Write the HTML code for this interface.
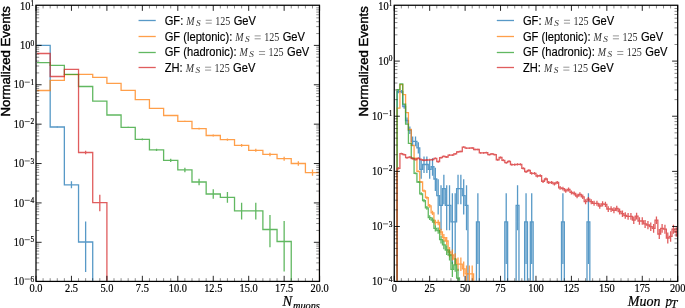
<!DOCTYPE html>
<html><head><meta charset="utf-8"><style>
html,body{margin:0;padding:0;background:#fff;overflow:hidden}
svg{display:block}
</style></head><body>
<svg width="685" height="308" viewBox="0 0 685 308">
<style>
.sf{font-family:"Liberation Serif",serif;fill:#000;stroke:#000;stroke-width:0.2px}
.lg{font-family:"Liberation Sans",sans-serif;font-size:11.15px;fill:#000;stroke:#000;stroke-width:0.15px}
.yl{font-family:"Liberation Sans",sans-serif;font-size:13.15px;fill:#000;stroke:#000;stroke-width:0.42px}
</style>
<defs><filter id="gs" x="0" y="0" width="1" height="1"><feColorMatrix type="saturate" values="0"/></filter>
<clipPath id="cl"><rect x="37" y="5.87" width="281.85" height="274.91"/></clipPath><clipPath id="cr"><rect x="395.25" y="5.87" width="281.85" height="274.91"/></clipPath></defs>
<rect width="685" height="308" fill="#fff"/>
<g>
<g clip-path="url(#cl)">
<g opacity="0.75">
<path d="M36 284.4 L36 45.4 L50.18 45.4 L50.18 127 L64.36 127 L64.36 184.8 L78.54 184.8 L78.54 242 L92.72 242 L92.72 284.4" fill="none" stroke="#1f77b4" stroke-width="1.3"/>
<path d="M57.27 126.4V127.6M71.45 181.3V188.36M85.63 221.58V272.03" fill="none" stroke="#1f77b4" stroke-width="1.3"/>
</g>
<g opacity="0.75">
<path d="M36 284.4 L36 90.5 L50.18 90.5 L50.18 80.4 L64.36 80.4 L64.36 74.7 L78.54 74.7 L78.54 74.3 L92.72 74.3 L92.72 77.4 L106.9 77.4 L106.9 83.3 L121.08 83.3 L121.08 90.4 L135.26 90.4 L135.26 99.6 L149.44 99.6 L149.44 108.4 L163.62 108.4 L163.62 115.5 L177.8 115.5 L177.8 121.4 L191.98 121.4 L191.98 128.6 L206.16 128.6 L206.16 135.5 L220.34 135.5 L220.34 139.7 L234.52 139.7 L234.52 145.4 L248.7 145.4 L248.7 150.3 L262.88 150.3 L262.88 154.4 L277.06 154.4 L277.06 158.7 L291.24 158.7 L291.24 163.5 L305.42 163.5 L305.42 172.6 L319.6 172.6 L319.6 284.4" fill="none" stroke="#ff7f0e" stroke-width="1.3"/>
<path d="M170.71 114.96V116.04M184.89 120.76V122.04M199.07 127.81V129.39M213.25 134.53V136.48M227.43 138.59V140.81M241.61 144.09V146.72M255.79 148.78V151.83M269.97 152.68V156.13M284.15 156.74V160.68M298.33 161.22V165.79M312.51 169.59V175.65" fill="none" stroke="#ff7f0e" stroke-width="1.3"/>
</g>
<g opacity="0.75">
<path d="M36 284.4 L36 62.6 L50.18 62.6 L50.18 65.3 L64.36 65.3 L64.36 74.3 L78.54 74.3 L78.54 86.5 L92.72 86.5 L92.72 101.1 L106.9 101.1 L106.9 115 L121.08 115 L121.08 127.3 L135.26 127.3 L135.26 139.3 L149.44 139.3 L149.44 149.9 L163.62 149.9 L163.62 160.4 L177.8 160.4 L177.8 169.9 L191.98 169.9 L191.98 182 L206.16 182 L206.16 194 L220.34 194 L220.34 197.3 L234.52 197.3 L234.52 210.8 L262.88 210.8 L262.88 229.5 L277.06 229.5 L277.06 241.5 L291.24 241.5 L291.24 284.4" fill="none" stroke="#2ca02c" stroke-width="1.3"/>
<path d="M128.17 126.68V127.92M142.35 138.42V140.18M156.53 148.69V151.12M170.71 158.74V162.07M184.89 167.68V172.14M199.07 178.74V185.31M213.25 189.28V198.86M227.43 192.02V202.77M241.61 202.79V219.44M255.79 202.79V219.44M269.97 215.11V247.26M284.15 221.08V271.53" fill="none" stroke="#2ca02c" stroke-width="1.3"/>
</g>
<g opacity="0.75">
<path d="M36 284.4 L36 53.5 L50.18 53.5 L50.18 76.5 L64.36 76.5 L64.36 69.4 L78.54 69.4 L78.54 152.5 L92.72 152.5 L92.72 202.7 L106.9 202.7 L106.9 284.4" fill="none" stroke="#d62728" stroke-width="1.3"/>
<path d="M85.63 150.82V154.19M99.81 194.68V211.35" fill="none" stroke="#d62728" stroke-width="1.3"/>
</g>
</g>
<g clip-path="url(#cr)">
<g opacity="0.75">
<path d="M394.25 284.4 L394.25 284.4 L397.08 284.4 L397.08 91.7 L402.75 91.7 L402.75 106.49 L405.59 106.49 L405.59 120.52 L408.42 120.52 L408.42 130.23 L411.26 130.23 L411.26 141.28 L416.93 141.28 L416.93 147.89 L419.76 147.89 L419.76 169.29 L422.6 169.29 L422.6 164.49 L428.26 164.49 L428.26 169.29 L431.1 169.29 L431.1 166.77 L433.93 166.77 L433.93 179 L436.77 179 L436.77 195.6 L439.6 195.6 L439.6 205.3 L442.44 205.3 L442.44 188.71 L445.27 188.71 L445.27 205.3 L450.94 205.3 L450.94 221.9 L456.61 221.9 L456.61 188.71 L462.28 188.71 L462.28 195.6 L465.11 195.6 L465.11 205.3 L467.95 205.3 L467.95 284.4 L476.45 284.4 L476.45 221.9 L479.29 221.9 L479.29 284.4 L504.8 284.4 L504.8 221.9 L507.63 221.9 L507.63 284.4 L516.13 284.4 L516.13 205.3 L518.97 205.3 L518.97 284.4 L524.64 284.4 L524.64 221.9 L527.47 221.9 L527.47 284.4 L530.31 284.4 L530.31 221.9 L533.14 221.9 L533.14 284.4 L561.49 284.4 L561.49 221.9 L564.32 221.9 L564.32 284.4 L587 284.4 L587 221.9 L589.83 221.9 L589.83 284.4 L677.7 284.4 L677.7 284.4" fill="none" stroke="#1f77b4" stroke-width="1.3"/>
<path d="M398.5 90.07V93.33M401.34 90.07V93.33M404.17 104.25V108.74M407.01 117.48V123.59M409.84 126.47V134.04M412.67 136.47V146.16M415.51 136.47V146.16M418.34 142.32V153.58M421.18 160.29V178.78M424.01 156.41V172.92M426.85 156.41V172.92M429.68 160.29V178.78M432.52 158.26V175.68M435.35 167.79V191.1M438.18 179.33V214.41M441.02 185.17V230.16M443.85 174.76V204.3M446.69 185.17V230.16M449.52 185.17V230.16M452.36 193.32V263.94M455.19 193.32V263.94M458.03 174.76V204.3M460.86 174.76V204.3M463.7 179.33V214.41M466.53 185.17V230.16M477.87 193.32V263.94M506.21 193.32V263.94M517.55 185.17V230.16M526.05 193.32V263.94M531.72 193.32V263.94M562.9 193.32V263.94M588.41 193.32V263.94" fill="none" stroke="#1f77b4" stroke-width="1.3"/>
</g>
<g opacity="0.75">
<path d="M394.25 284.4 L394.25 284.4 L397.08 284.4 L397.08 108.2 L399.92 108.2 L399.92 84.7 L402.75 84.7 L402.75 94.6 L405.59 94.6 L405.59 112.7 L408.42 112.7 L408.42 129.5 L411.26 129.5 L411.26 145.4 L414.09 145.4 L414.09 158.4 L416.93 158.4 L416.93 171.3 L419.76 171.3 L419.76 182 L422.6 182 L422.6 190.8 L425.43 190.8 L425.43 197.7 L428.26 197.7 L428.26 205.9 L431.1 205.9 L431.1 212.8 L433.93 212.8 L433.93 222.5 L439.6 222.5 L439.6 232 L442.44 232 L442.44 237.7 L445.27 237.7 L445.27 241 L448.11 241 L448.11 252 L450.94 252 L450.94 255 L453.77 255 L453.77 259.2 L456.61 259.2 L456.61 264.2 L462.28 264.2 L462.28 268.8 L465.11 268.8 L465.11 273.9 L473.62 273.9 L473.62 284.4 L677.7 284.4 L677.7 284.4" fill="none" stroke="#ff7f0e" stroke-width="1.3"/>
<path d="M412.67 144.89V145.91M415.51 157.73V159.07M418.34 170.41V172.19M421.18 180.89V183.11M424.01 189.46V192.14M426.85 196.14V199.26M429.68 204.04V207.76M432.52 210.64V214.96M435.35 219.84V225.18M438.18 219.84V225.18M441.02 228.72V235.3M443.85 233.99V241.45M446.69 237.01V245.04M449.52 246.91V257.19M452.36 249.55V260.56M455.19 253.22V265.33M458.03 257.51V271.1M460.86 257.51V271.1M463.7 261.38V276.5M466.53 265.58V282.61M469.36 265.58V282.61M472.2 265.58V282.61" fill="none" stroke="#ff7f0e" stroke-width="1.3"/>
</g>
<g opacity="0.75">
<path d="M394.25 284.4 L394.25 284.4 L397.08 284.4 L397.08 89.7 L399.92 89.7 L399.92 83.9 L402.75 83.9 L402.75 104.2 L405.59 104.2 L405.59 124.1 L408.42 124.1 L408.42 143.4 L411.26 143.4 L411.26 158.1 L414.09 158.1 L414.09 173.3 L416.93 173.3 L416.93 182 L419.76 182 L419.76 193.8 L422.6 193.8 L422.6 200.6 L425.43 200.6 L425.43 207.9 L428.26 207.9 L428.26 217.7 L431.1 217.7 L431.1 220.1 L433.93 220.1 L433.93 228.4 L436.77 228.4 L436.77 230.6 L439.6 230.6 L439.6 239.7 L442.44 239.7 L442.44 244.9 L445.27 244.9 L445.27 250 L448.11 250 L448.11 255 L450.94 255 L450.94 269.3 L453.77 269.3 L453.77 264.8 L456.61 264.8 L456.61 278 L459.44 278 L459.44 284.4 L677.7 284.4 L677.7 284.4" fill="none" stroke="#2ca02c" stroke-width="1.3"/>
<path d="M412.67 157.43V158.77M415.51 172.38V174.23M418.34 180.89V183.11M421.18 192.37V195.23M424.01 198.94V202.26M426.85 205.96V209.84M429.68 215.3V220.11M432.52 217.57V222.64M435.35 225.37V231.45M438.18 227.42V233.8M441.02 235.82V243.62M443.85 240.55V249.31M446.69 245.13V254.96M449.52 249.55V260.56M452.36 261.8V277.09M455.19 258.02V271.8M458.03 268.87V283.4" fill="none" stroke="#2ca02c" stroke-width="1.3"/>
</g>
<g opacity="0.75">
<path d="M394.25 284.4 L394.25 284.4 L397.08 284.4 L397.08 168.4 L399.92 168.4 L399.92 153.6 L402.75 153.6 L402.75 154.7 L405.59 154.7 L405.59 157.7 L408.42 157.7 L408.42 157.2 L411.26 157.2 L411.26 158.6 L414.09 158.6 L414.09 159.6 L416.93 159.6 L416.93 158.3 L419.76 158.3 L419.76 159.6 L422.6 159.6 L422.6 160.3 L425.43 160.3 L425.43 160 L428.26 160 L428.26 159.8 L431.1 159.8 L431.1 159.7 L433.93 159.7 L433.93 158.4 L436.77 158.4 L436.77 161.6 L439.6 161.6 L439.6 157.7 L442.44 157.7 L442.44 156.4 L445.27 156.4 L445.27 157 L448.11 157 L448.11 155.1 L453.77 155.1 L453.77 153.8 L456.61 153.8 L456.61 151.9 L459.44 151.9 L459.44 151.5 L462.28 151.5 L462.28 147.1 L465.11 147.1 L465.11 148.2 L470.78 148.2 L470.78 148 L473.62 148 L473.62 149.5 L479.29 149.5 L479.29 152.8 L484.95 152.8 L484.95 152.7 L487.79 152.7 L487.79 154.6 L490.62 154.6 L490.62 153.8 L493.46 153.8 L493.46 154.6 L496.29 154.6 L496.29 159.8 L499.13 159.8 L499.13 157.5 L501.96 157.5 L501.96 160.3 L504.8 160.3 L504.8 162.7 L507.63 162.7 L507.63 161.4 L510.46 161.4 L510.46 164.7 L516.13 164.7 L516.13 164.4 L521.8 164.4 L521.8 168.4 L524.64 168.4 L524.64 171.7 L527.47 171.7 L527.47 170.4 L530.31 170.4 L530.31 173.3 L535.98 173.3 L535.98 176 L538.81 176 L538.81 175.7 L541.64 175.7 L541.64 181.4 L544.48 181.4 L544.48 179 L547.31 179 L547.31 182.5 L552.98 182.5 L552.98 183.8 L555.82 183.8 L555.82 182.5 L558.65 182.5 L558.65 187.9 L561.49 187.9 L561.49 188.7 L564.32 188.7 L564.32 190.8 L567.15 190.8 L567.15 189.5 L569.99 189.5 L569.99 192.4 L572.82 192.4 L572.82 193.5 L575.66 193.5 L575.66 196 L578.49 196 L578.49 194.4 L581.33 194.4 L581.33 196.8 L584.16 196.8 L584.16 201.7 L587 201.7 L587 199.2 L589.83 199.2 L589.83 201.7 L592.66 201.7 L592.66 203.3 L598.33 203.3 L598.33 206 L601.17 206 L601.17 203.8 L604 203.8 L604 204.4 L606.84 204.4 L606.84 209 L612.51 209 L612.51 210.3 L615.34 210.3 L615.34 208.5 L618.18 208.5 L618.18 211.5 L621.01 211.5 L621.01 213.7 L623.84 213.7 L623.84 215.5 L626.68 215.5 L626.68 216.3 L632.35 216.3 L632.35 220.2 L635.18 220.2 L635.18 216.1 L638.02 216.1 L638.02 221 L643.69 221 L643.69 223.9 L646.52 223.9 L646.52 225 L649.36 225 L649.36 226.7 L652.19 226.7 L652.19 228.3 L655.02 228.3 L655.02 220.2 L657.86 220.2 L657.86 234 L660.69 234 L660.69 228.3 L663.53 228.3 L663.53 229.1 L666.36 229.1 L666.36 238 L669.2 238 L669.2 236.4 L672.03 236.4 L672.03 229.1 L674.87 229.1 L674.87 232 L677.7 232 L677.7 284.4" fill="none" stroke="#d62728" stroke-width="1.3"/>
<path d="M398.5 167.2V169.6M401.34 152.73V154.47M404.17 153.81V155.59M407.01 156.75V158.65M409.84 156.26V158.14M412.67 157.63V159.57M415.51 158.61V160.59M418.34 157.34V159.27M421.18 158.61V160.59M424.01 159.29V161.31M426.85 159V161M429.68 158.8V160.8M432.52 158.71V160.69M435.35 157.43V159.37M438.18 160.57V162.64M441.02 156.75V158.65M443.85 155.47V157.33M446.69 156.06V157.94M449.52 154.2V156M452.36 154.2V156M455.19 152.92V154.68M458.03 151.06V152.74M460.86 150.67V152.34M463.7 146.34V147.86M466.53 147.42V148.98M469.36 147.42V148.98M472.2 147.22V148.78M475.03 148.7V150.3M477.87 148.7V150.3M480.7 151.94V153.66M483.54 151.94V153.66M486.37 151.84V153.56M489.21 153.71V155.49M492.04 152.92V154.68M494.87 153.71V155.49M497.71 158.8V160.8M500.54 156.55V158.45M503.38 159.29V161.31M506.21 161.64V163.76M509.05 160.37V162.43M511.88 163.59V165.81M514.72 163.59V165.81M517.55 163.3V165.5M520.39 163.3V165.5M523.22 167.2V169.6M526.05 170.42V172.99M528.89 169.15V171.65M531.72 171.97V174.63M534.56 171.97V174.63M537.39 174.59V177.41M540.23 174.3V177.1M543.06 179.82V182.98M545.9 177.5V180.5M548.73 180.88V184.12M551.56 180.88V184.12M554.4 182.14V185.47M557.23 180.88V184.12M560.07 186.08V189.72M562.9 186.85V190.55M565.74 188.87V192.74M568.57 187.62V191.39M571.41 190.4V194.41M574.24 191.45V195.56M577.08 193.84V198.17M579.91 192.31V196.5M582.74 194.6V199.01M585.58 199.25V204.16M588.41 196.88V201.53M591.25 199.25V204.16M594.08 200.76V205.85M596.92 200.76V205.85M599.75 203.31V208.71M602.59 201.24V206.38M605.42 201.8V207.01M608.25 206.13V211.89M611.09 206.13V211.89M613.92 207.35V213.27M616.76 205.66V211.36M619.59 208.47V214.55M622.43 210.52V216.91M625.26 212.19V218.84M628.1 212.93V219.7M630.93 212.93V219.7M633.77 216.53V223.91M636.6 212.74V219.48M639.43 217.26V224.78M642.27 217.26V224.78M645.1 219.92V227.93M647.94 220.92V229.13M650.77 222.46V230.99M653.61 223.91V232.75M656.44 216.53V223.91M659.28 229.02V239.07M662.11 223.91V232.75M664.94 224.63V233.63M667.78 232.55V243.56M670.61 231.14V241.76M673.45 224.63V233.63M676.28 227.23V236.84" fill="none" stroke="#d62728" stroke-width="1.3"/>
</g>
</g>
<path d="M36 281.4v-5.6M36 5.25v5.6M71.45 281.4v-5.6M71.45 5.25v5.6M106.9 281.4v-5.6M106.9 5.25v5.6M142.35 281.4v-5.6M142.35 5.25v5.6M177.8 281.4v-5.6M177.8 5.25v5.6M213.25 281.4v-5.6M213.25 5.25v5.6M248.7 281.4v-5.6M248.7 5.25v5.6M284.15 281.4v-5.6M284.15 5.25v5.6M319.6 281.4v-5.6M319.6 5.25v5.6M36 242.3h5.6M319.45 242.3h-5.6M36 202.92h5.6M319.45 202.92h-5.6M36 163.54h5.6M319.45 163.54h-5.6M36 124.16h5.6M319.45 124.16h-5.6M36 84.78h5.6M319.45 84.78h-5.6M36 45.4h5.6M319.45 45.4h-5.6" stroke="#000" stroke-width="0.85" fill="none"/>
<path d="M43.09 281.4v-3.2M43.09 5.25v3.2M50.18 281.4v-3.2M50.18 5.25v3.2M57.27 281.4v-3.2M57.27 5.25v3.2M64.36 281.4v-3.2M64.36 5.25v3.2M78.54 281.4v-3.2M78.54 5.25v3.2M85.63 281.4v-3.2M85.63 5.25v3.2M92.72 281.4v-3.2M92.72 5.25v3.2M99.81 281.4v-3.2M99.81 5.25v3.2M113.99 281.4v-3.2M113.99 5.25v3.2M121.08 281.4v-3.2M121.08 5.25v3.2M128.17 281.4v-3.2M128.17 5.25v3.2M135.26 281.4v-3.2M135.26 5.25v3.2M149.44 281.4v-3.2M149.44 5.25v3.2M156.53 281.4v-3.2M156.53 5.25v3.2M163.62 281.4v-3.2M163.62 5.25v3.2M170.71 281.4v-3.2M170.71 5.25v3.2M184.89 281.4v-3.2M184.89 5.25v3.2M191.98 281.4v-3.2M191.98 5.25v3.2M199.07 281.4v-3.2M199.07 5.25v3.2M206.16 281.4v-3.2M206.16 5.25v3.2M220.34 281.4v-3.2M220.34 5.25v3.2M227.43 281.4v-3.2M227.43 5.25v3.2M234.52 281.4v-3.2M234.52 5.25v3.2M241.61 281.4v-3.2M241.61 5.25v3.2M255.79 281.4v-3.2M255.79 5.25v3.2M262.88 281.4v-3.2M262.88 5.25v3.2M269.97 281.4v-3.2M269.97 5.25v3.2M277.06 281.4v-3.2M277.06 5.25v3.2M291.24 281.4v-3.2M291.24 5.25v3.2M298.33 281.4v-3.2M298.33 5.25v3.2M305.42 281.4v-3.2M305.42 5.25v3.2M312.51 281.4v-3.2M312.51 5.25v3.2M36 269.83h3.2M319.45 269.83h-3.2M36 262.89h3.2M319.45 262.89h-3.2M36 257.97h3.2M319.45 257.97h-3.2M36 254.15h3.2M319.45 254.15h-3.2M36 251.04h3.2M319.45 251.04h-3.2M36 248.4h3.2M319.45 248.4h-3.2M36 246.12h3.2M319.45 246.12h-3.2M36 244.1h3.2M319.45 244.1h-3.2M36 230.45h3.2M319.45 230.45h-3.2M36 223.51h3.2M319.45 223.51h-3.2M36 218.59h3.2M319.45 218.59h-3.2M36 214.77h3.2M319.45 214.77h-3.2M36 211.66h3.2M319.45 211.66h-3.2M36 209.02h3.2M319.45 209.02h-3.2M36 206.74h3.2M319.45 206.74h-3.2M36 204.72h3.2M319.45 204.72h-3.2M36 191.07h3.2M319.45 191.07h-3.2M36 184.13h3.2M319.45 184.13h-3.2M36 179.21h3.2M319.45 179.21h-3.2M36 175.39h3.2M319.45 175.39h-3.2M36 172.28h3.2M319.45 172.28h-3.2M36 169.64h3.2M319.45 169.64h-3.2M36 167.36h3.2M319.45 167.36h-3.2M36 165.34h3.2M319.45 165.34h-3.2M36 151.69h3.2M319.45 151.69h-3.2M36 144.75h3.2M319.45 144.75h-3.2M36 139.83h3.2M319.45 139.83h-3.2M36 136.01h3.2M319.45 136.01h-3.2M36 132.9h3.2M319.45 132.9h-3.2M36 130.26h3.2M319.45 130.26h-3.2M36 127.98h3.2M319.45 127.98h-3.2M36 125.96h3.2M319.45 125.96h-3.2M36 112.31h3.2M319.45 112.31h-3.2M36 105.37h3.2M319.45 105.37h-3.2M36 100.45h3.2M319.45 100.45h-3.2M36 96.63h3.2M319.45 96.63h-3.2M36 93.52h3.2M319.45 93.52h-3.2M36 90.88h3.2M319.45 90.88h-3.2M36 88.6h3.2M319.45 88.6h-3.2M36 86.58h3.2M319.45 86.58h-3.2M36 72.93h3.2M319.45 72.93h-3.2M36 65.99h3.2M319.45 65.99h-3.2M36 61.07h3.2M319.45 61.07h-3.2M36 57.25h3.2M319.45 57.25h-3.2M36 54.14h3.2M319.45 54.14h-3.2M36 51.5h3.2M319.45 51.5h-3.2M36 49.22h3.2M319.45 49.22h-3.2M36 47.2h3.2M319.45 47.2h-3.2M36 33.55h3.2M319.45 33.55h-3.2M36 26.61h3.2M319.45 26.61h-3.2M36 21.69h3.2M319.45 21.69h-3.2M36 17.87h3.2M319.45 17.87h-3.2M36 14.76h3.2M319.45 14.76h-3.2M36 12.12h3.2M319.45 12.12h-3.2M36 9.84h3.2M319.45 9.84h-3.2M36 7.82h3.2M319.45 7.82h-3.2" stroke="#000" stroke-opacity="0.7" stroke-width="0.65" fill="none"/>
<rect x="36" y="5.25" width="283.45" height="276.15" fill="none" stroke="#000" stroke-width="1.25"/>
<path d="M394.25 281.4v-5.6M394.25 5.25v5.6M429.68 281.4v-5.6M429.68 5.25v5.6M465.11 281.4v-5.6M465.11 5.25v5.6M500.54 281.4v-5.6M500.54 5.25v5.6M535.98 281.4v-5.6M535.98 5.25v5.6M571.41 281.4v-5.6M571.41 5.25v5.6M606.84 281.4v-5.6M606.84 5.25v5.6M642.27 281.4v-5.6M642.27 5.25v5.6M677.7 281.4v-5.6M677.7 5.25v5.6M394.25 226.49h5.6M677.7 226.49h-5.6M394.25 171.36h5.6M677.7 171.36h-5.6M394.25 116.23h5.6M677.7 116.23h-5.6M394.25 61.1h5.6M677.7 61.1h-5.6" stroke="#000" stroke-width="0.85" fill="none"/>
<path d="M401.34 281.4v-3.2M401.34 5.25v3.2M408.42 281.4v-3.2M408.42 5.25v3.2M415.51 281.4v-3.2M415.51 5.25v3.2M422.6 281.4v-3.2M422.6 5.25v3.2M436.77 281.4v-3.2M436.77 5.25v3.2M443.85 281.4v-3.2M443.85 5.25v3.2M450.94 281.4v-3.2M450.94 5.25v3.2M458.03 281.4v-3.2M458.03 5.25v3.2M472.2 281.4v-3.2M472.2 5.25v3.2M479.29 281.4v-3.2M479.29 5.25v3.2M486.37 281.4v-3.2M486.37 5.25v3.2M493.46 281.4v-3.2M493.46 5.25v3.2M507.63 281.4v-3.2M507.63 5.25v3.2M514.72 281.4v-3.2M514.72 5.25v3.2M521.8 281.4v-3.2M521.8 5.25v3.2M528.89 281.4v-3.2M528.89 5.25v3.2M543.06 281.4v-3.2M543.06 5.25v3.2M550.15 281.4v-3.2M550.15 5.25v3.2M557.23 281.4v-3.2M557.23 5.25v3.2M564.32 281.4v-3.2M564.32 5.25v3.2M578.49 281.4v-3.2M578.49 5.25v3.2M585.58 281.4v-3.2M585.58 5.25v3.2M592.66 281.4v-3.2M592.66 5.25v3.2M599.75 281.4v-3.2M599.75 5.25v3.2M613.92 281.4v-3.2M613.92 5.25v3.2M621.01 281.4v-3.2M621.01 5.25v3.2M628.1 281.4v-3.2M628.1 5.25v3.2M635.18 281.4v-3.2M635.18 5.25v3.2M649.36 281.4v-3.2M649.36 5.25v3.2M656.44 281.4v-3.2M656.44 5.25v3.2M663.53 281.4v-3.2M663.53 5.25v3.2M670.61 281.4v-3.2M670.61 5.25v3.2M394.25 265.02h3.2M677.7 265.02h-3.2M394.25 255.32h3.2M677.7 255.32h-3.2M394.25 248.43h3.2M677.7 248.43h-3.2M394.25 243.09h3.2M677.7 243.09h-3.2M394.25 238.72h3.2M677.7 238.72h-3.2M394.25 235.03h3.2M677.7 235.03h-3.2M394.25 231.83h3.2M677.7 231.83h-3.2M394.25 229.01h3.2M677.7 229.01h-3.2M394.25 209.89h3.2M677.7 209.89h-3.2M394.25 200.19h3.2M677.7 200.19h-3.2M394.25 193.3h3.2M677.7 193.3h-3.2M394.25 187.96h3.2M677.7 187.96h-3.2M394.25 183.59h3.2M677.7 183.59h-3.2M394.25 179.9h3.2M677.7 179.9h-3.2M394.25 176.7h3.2M677.7 176.7h-3.2M394.25 173.88h3.2M677.7 173.88h-3.2M394.25 154.76h3.2M677.7 154.76h-3.2M394.25 145.06h3.2M677.7 145.06h-3.2M394.25 138.17h3.2M677.7 138.17h-3.2M394.25 132.83h3.2M677.7 132.83h-3.2M394.25 128.46h3.2M677.7 128.46h-3.2M394.25 124.77h3.2M677.7 124.77h-3.2M394.25 121.57h3.2M677.7 121.57h-3.2M394.25 118.75h3.2M677.7 118.75h-3.2M394.25 99.63h3.2M677.7 99.63h-3.2M394.25 89.93h3.2M677.7 89.93h-3.2M394.25 83.04h3.2M677.7 83.04h-3.2M394.25 77.7h3.2M677.7 77.7h-3.2M394.25 73.33h3.2M677.7 73.33h-3.2M394.25 69.64h3.2M677.7 69.64h-3.2M394.25 66.44h3.2M677.7 66.44h-3.2M394.25 63.62h3.2M677.7 63.62h-3.2M394.25 44.5h3.2M677.7 44.5h-3.2M394.25 34.8h3.2M677.7 34.8h-3.2M394.25 27.91h3.2M677.7 27.91h-3.2M394.25 22.57h3.2M677.7 22.57h-3.2M394.25 18.2h3.2M677.7 18.2h-3.2M394.25 14.51h3.2M677.7 14.51h-3.2M394.25 11.31h3.2M677.7 11.31h-3.2M394.25 8.49h3.2M677.7 8.49h-3.2" stroke="#000" stroke-opacity="0.7" stroke-width="0.65" fill="none"/>
<rect x="394.25" y="5.25" width="283.45" height="276.15" fill="none" stroke="#000" stroke-width="1.25"/>
<path d="M138.55 20.5h17.2" stroke="#1f77b4" stroke-width="1.3" stroke-opacity="0.75"/>
<path d="M138.55 36.5h17.2" stroke="#ff7f0e" stroke-width="1.3" stroke-opacity="0.75"/>
<path d="M138.55 52.5h17.2" stroke="#2ca02c" stroke-width="1.3" stroke-opacity="0.75"/>
<path d="M138.55 67.5h17.2" stroke="#d62728" stroke-width="1.3" stroke-opacity="0.75"/>
<path d="M496.8 20.5h17.2" stroke="#1f77b4" stroke-width="1.3" stroke-opacity="0.75"/>
<path d="M496.8 36.5h17.2" stroke="#ff7f0e" stroke-width="1.3" stroke-opacity="0.75"/>
<path d="M496.8 52.5h17.2" stroke="#2ca02c" stroke-width="1.3" stroke-opacity="0.75"/>
<path d="M496.8 67.5h17.2" stroke="#d62728" stroke-width="1.3" stroke-opacity="0.75"/>
</g>
<g filter="url(#gs)">
<text class="sf" style="font-size:11.8px" text-anchor="middle" transform="translate(36 292.4) scale(0.88 1)">0.0</text>
<text class="sf" style="font-size:11.8px" text-anchor="middle" transform="translate(71.45 292.4) scale(0.88 1)">2.5</text>
<text class="sf" style="font-size:11.8px" text-anchor="middle" transform="translate(106.9 292.4) scale(0.88 1)">5.0</text>
<text class="sf" style="font-size:11.8px" text-anchor="middle" transform="translate(142.35 292.4) scale(0.88 1)">7.5</text>
<text class="sf" style="font-size:11.8px" text-anchor="middle" transform="translate(177.8 292.4) scale(0.88 1)">10.0</text>
<text class="sf" style="font-size:11.8px" text-anchor="middle" transform="translate(213.25 292.4) scale(0.88 1)">12.5</text>
<text class="sf" style="font-size:11.8px" text-anchor="middle" transform="translate(248.7 292.4) scale(0.88 1)">15.0</text>
<text class="sf" style="font-size:11.8px" text-anchor="middle" transform="translate(284.15 292.4) scale(0.88 1)">17.5</text>
<text class="sf" style="font-size:11.8px" text-anchor="middle" transform="translate(319.6 292.4) scale(0.88 1)">20.0</text>
<text class="sf" style="font-size:8.4px" text-anchor="end" transform="translate(34.1 281.78) scale(0.88 1)">6</text>
<path d="M29.8 279.08h-5.1" stroke="#000" stroke-width="0.62"/>
<text class="sf" style="font-size:11.8px" text-anchor="end" transform="translate(24.2 285.28) scale(0.88 1)">10</text>
<text class="sf" style="font-size:8.4px" text-anchor="end" transform="translate(34.1 242.4) scale(0.88 1)">5</text>
<path d="M29.8 239.7h-5.1" stroke="#000" stroke-width="0.62"/>
<text class="sf" style="font-size:11.8px" text-anchor="end" transform="translate(24.2 245.9) scale(0.88 1)">10</text>
<text class="sf" style="font-size:8.4px" text-anchor="end" transform="translate(34.1 203.02) scale(0.88 1)">4</text>
<path d="M29.8 200.32h-5.1" stroke="#000" stroke-width="0.62"/>
<text class="sf" style="font-size:11.8px" text-anchor="end" transform="translate(24.2 206.52) scale(0.88 1)">10</text>
<text class="sf" style="font-size:8.4px" text-anchor="end" transform="translate(34.1 163.64) scale(0.88 1)">3</text>
<path d="M29.8 160.94h-5.1" stroke="#000" stroke-width="0.62"/>
<text class="sf" style="font-size:11.8px" text-anchor="end" transform="translate(24.2 167.14) scale(0.88 1)">10</text>
<text class="sf" style="font-size:8.4px" text-anchor="end" transform="translate(34.1 124.26) scale(0.88 1)">2</text>
<path d="M29.8 121.56h-5.1" stroke="#000" stroke-width="0.62"/>
<text class="sf" style="font-size:11.8px" text-anchor="end" transform="translate(24.2 127.76) scale(0.88 1)">10</text>
<text class="sf" style="font-size:8.4px" text-anchor="end" transform="translate(34.1 84.88) scale(0.88 1)">1</text>
<path d="M29.8 82.18h-5.1" stroke="#000" stroke-width="0.62"/>
<text class="sf" style="font-size:11.8px" text-anchor="end" transform="translate(24.2 88.38) scale(0.88 1)">10</text>
<text class="sf" style="font-size:11.8px" text-anchor="end" transform="translate(34.1 49) scale(0.88 1)">10<tspan dy="-3.3" style="font-size:8.4px">0</tspan></text>
<text class="sf" style="font-size:11.8px" text-anchor="end" transform="translate(34.1 9.62) scale(0.88 1)">10<tspan dy="-3.3" style="font-size:8.4px">1</tspan></text>
<text class="sf" style="font-size:11.8px" text-anchor="middle" transform="translate(394.25 292.4) scale(0.88 1)">0</text>
<text class="sf" style="font-size:11.8px" text-anchor="middle" transform="translate(429.68 292.4) scale(0.88 1)">25</text>
<text class="sf" style="font-size:11.8px" text-anchor="middle" transform="translate(465.11 292.4) scale(0.88 1)">50</text>
<text class="sf" style="font-size:11.8px" text-anchor="middle" transform="translate(500.54 292.4) scale(0.88 1)">75</text>
<text class="sf" style="font-size:11.8px" text-anchor="middle" transform="translate(535.98 292.4) scale(0.88 1)">100</text>
<text class="sf" style="font-size:11.8px" text-anchor="middle" transform="translate(571.41 292.4) scale(0.88 1)">125</text>
<text class="sf" style="font-size:11.8px" text-anchor="middle" transform="translate(606.84 292.4) scale(0.88 1)">150</text>
<text class="sf" style="font-size:11.8px" text-anchor="middle" transform="translate(642.27 292.4) scale(0.88 1)">175</text>
<text class="sf" style="font-size:11.8px" text-anchor="middle" transform="translate(677.7 292.4) scale(0.88 1)">200</text>
<text class="sf" style="font-size:8.4px" text-anchor="end" transform="translate(392.35 281.72) scale(0.88 1)">4</text>
<path d="M388.05 279.02h-5.1" stroke="#000" stroke-width="0.62"/>
<text class="sf" style="font-size:11.8px" text-anchor="end" transform="translate(382.45 285.22) scale(0.88 1)">10</text>
<text class="sf" style="font-size:8.4px" text-anchor="end" transform="translate(392.35 226.59) scale(0.88 1)">3</text>
<path d="M388.05 223.89h-5.1" stroke="#000" stroke-width="0.62"/>
<text class="sf" style="font-size:11.8px" text-anchor="end" transform="translate(382.45 230.09) scale(0.88 1)">10</text>
<text class="sf" style="font-size:8.4px" text-anchor="end" transform="translate(392.35 171.46) scale(0.88 1)">2</text>
<path d="M388.05 168.76h-5.1" stroke="#000" stroke-width="0.62"/>
<text class="sf" style="font-size:11.8px" text-anchor="end" transform="translate(382.45 174.96) scale(0.88 1)">10</text>
<text class="sf" style="font-size:8.4px" text-anchor="end" transform="translate(392.35 116.33) scale(0.88 1)">1</text>
<path d="M388.05 113.63h-5.1" stroke="#000" stroke-width="0.62"/>
<text class="sf" style="font-size:11.8px" text-anchor="end" transform="translate(382.45 119.83) scale(0.88 1)">10</text>
<text class="sf" style="font-size:11.8px" text-anchor="end" transform="translate(392.35 64.7) scale(0.88 1)">10<tspan dy="-3.3" style="font-size:8.4px">0</tspan></text>
<text class="sf" style="font-size:11.8px" text-anchor="end" transform="translate(392.35 9.57) scale(0.88 1)">10<tspan dy="-3.3" style="font-size:8.4px">1</tspan></text>
<text class="lg" transform="translate(164.7 24.95) scale(1 1.1)">GF:</text>
<text class="sf" style="font-size:11.6px;fill:#333;stroke-width:0px;font-style:italic" text-anchor="start" transform="translate(186.28 24.95) scale(0.86 1)">M</text>
<text class="sf" style="font-size:7.7px;fill:#333;stroke-width:0px;font-style:italic" text-anchor="start" transform="translate(196.08 25.85) scale(1.2 1)">S</text>
<path d="M205.68 20.25h6.1M205.68 23.15h6.1" stroke="#555" stroke-width="0.62"/>
<text class="sf" style="font-size:11.6px;fill:#333;stroke-width:0px" text-anchor="start" transform="translate(215.18 24.95) scale(0.87 1)">125</text>
<text class="lg" transform="translate(233.68 24.95) scale(1 1.1)">GeV</text>
<text class="lg" transform="translate(164.7 40.6) scale(1 1.1)">GF (leptonic):</text>
<text class="sf" style="font-size:11.6px;fill:#333;stroke-width:0px;font-style:italic" text-anchor="start" transform="translate(235.24 40.6) scale(0.86 1)">M</text>
<text class="sf" style="font-size:7.7px;fill:#333;stroke-width:0px;font-style:italic" text-anchor="start" transform="translate(245.04 41.5) scale(1.2 1)">S</text>
<path d="M254.64 35.9h6.1M254.64 38.8h6.1" stroke="#555" stroke-width="0.62"/>
<text class="sf" style="font-size:11.6px;fill:#333;stroke-width:0px" text-anchor="start" transform="translate(264.14 40.6) scale(0.87 1)">125</text>
<text class="lg" transform="translate(282.64 40.6) scale(1 1.1)">GeV</text>
<text class="lg" transform="translate(164.7 56.25) scale(1 1.1)">GF (hadronic):</text>
<text class="sf" style="font-size:11.6px;fill:#333;stroke-width:0px;font-style:italic" text-anchor="start" transform="translate(239.57 56.25) scale(0.86 1)">M</text>
<text class="sf" style="font-size:7.7px;fill:#333;stroke-width:0px;font-style:italic" text-anchor="start" transform="translate(249.37 57.15) scale(1.2 1)">S</text>
<path d="M258.97 51.55h6.1M258.97 54.45h6.1" stroke="#555" stroke-width="0.62"/>
<text class="sf" style="font-size:11.6px;fill:#333;stroke-width:0px" text-anchor="start" transform="translate(268.47 56.25) scale(0.87 1)">125</text>
<text class="lg" transform="translate(286.97 56.25) scale(1 1.1)">GeV</text>
<text class="lg" transform="translate(164.7 71.9) scale(1 1.1)">ZH:</text>
<text class="sf" style="font-size:11.6px;fill:#333;stroke-width:0px;font-style:italic" text-anchor="start" transform="translate(185.66 71.9) scale(0.86 1)">M</text>
<text class="sf" style="font-size:7.7px;fill:#333;stroke-width:0px;font-style:italic" text-anchor="start" transform="translate(195.46 72.8) scale(1.2 1)">S</text>
<path d="M205.06 67.2h6.1M205.06 70.1h6.1" stroke="#555" stroke-width="0.62"/>
<text class="sf" style="font-size:11.6px;fill:#333;stroke-width:0px" text-anchor="start" transform="translate(214.56 71.9) scale(0.87 1)">125</text>
<text class="lg" transform="translate(233.06 71.9) scale(1 1.1)">GeV</text>
<text class="lg" transform="translate(522.95 24.95) scale(1 1.1)">GF:</text>
<text class="sf" style="font-size:11.6px;fill:#333;stroke-width:0px;font-style:italic" text-anchor="start" transform="translate(544.53 24.95) scale(0.86 1)">M</text>
<text class="sf" style="font-size:7.7px;fill:#333;stroke-width:0px;font-style:italic" text-anchor="start" transform="translate(554.33 25.85) scale(1.2 1)">S</text>
<path d="M563.93 20.25h6.1M563.93 23.15h6.1" stroke="#555" stroke-width="0.62"/>
<text class="sf" style="font-size:11.6px;fill:#333;stroke-width:0px" text-anchor="start" transform="translate(573.43 24.95) scale(0.87 1)">125</text>
<text class="lg" transform="translate(591.93 24.95) scale(1 1.1)">GeV</text>
<text class="lg" transform="translate(522.95 40.6) scale(1 1.1)">GF (leptonic):</text>
<text class="sf" style="font-size:11.6px;fill:#333;stroke-width:0px;font-style:italic" text-anchor="start" transform="translate(593.49 40.6) scale(0.86 1)">M</text>
<text class="sf" style="font-size:7.7px;fill:#333;stroke-width:0px;font-style:italic" text-anchor="start" transform="translate(603.29 41.5) scale(1.2 1)">S</text>
<path d="M612.89 35.9h6.1M612.89 38.8h6.1" stroke="#555" stroke-width="0.62"/>
<text class="sf" style="font-size:11.6px;fill:#333;stroke-width:0px" text-anchor="start" transform="translate(622.39 40.6) scale(0.87 1)">125</text>
<text class="lg" transform="translate(640.89 40.6) scale(1 1.1)">GeV</text>
<text class="lg" transform="translate(522.95 56.25) scale(1 1.1)">GF (hadronic):</text>
<text class="sf" style="font-size:11.6px;fill:#333;stroke-width:0px;font-style:italic" text-anchor="start" transform="translate(597.82 56.25) scale(0.86 1)">M</text>
<text class="sf" style="font-size:7.7px;fill:#333;stroke-width:0px;font-style:italic" text-anchor="start" transform="translate(607.62 57.15) scale(1.2 1)">S</text>
<path d="M617.22 51.55h6.1M617.22 54.45h6.1" stroke="#555" stroke-width="0.62"/>
<text class="sf" style="font-size:11.6px;fill:#333;stroke-width:0px" text-anchor="start" transform="translate(626.72 56.25) scale(0.87 1)">125</text>
<text class="lg" transform="translate(645.22 56.25) scale(1 1.1)">GeV</text>
<text class="lg" transform="translate(522.95 71.9) scale(1 1.1)">ZH:</text>
<text class="sf" style="font-size:11.6px;fill:#333;stroke-width:0px;font-style:italic" text-anchor="start" transform="translate(543.91 71.9) scale(0.86 1)">M</text>
<text class="sf" style="font-size:7.7px;fill:#333;stroke-width:0px;font-style:italic" text-anchor="start" transform="translate(553.71 72.8) scale(1.2 1)">S</text>
<path d="M563.31 67.2h6.1M563.31 70.1h6.1" stroke="#555" stroke-width="0.62"/>
<text class="sf" style="font-size:11.6px;fill:#333;stroke-width:0px" text-anchor="start" transform="translate(572.81 71.9) scale(0.87 1)">125</text>
<text class="lg" transform="translate(591.31 71.9) scale(1 1.1)">GeV</text>
<text class="yl" text-anchor="end" transform="translate(9.85 6.3) rotate(-90)">Normalized Events</text>
<text class="yl" text-anchor="end" transform="translate(368.45 6.3) rotate(-90)">Normalized Events</text>
<text class="sf" style="font-size:14.5px;font-style:italic" text-anchor="start" transform="translate(282.6 305.8) scale(1 1)">N</text>
<text class="sf" style="font-size:10px;font-style:italic" text-anchor="start" transform="translate(293 309.3) scale(1.03 1)">muons</text>
<text class="sf" style="font-size:14.5px;font-style:italic" text-anchor="start" transform="translate(627.8 306) scale(0.97 1)">Muon</text>
<text class="sf" style="font-size:14.5px;font-style:italic" text-anchor="start" transform="translate(665.6 306) scale(0.9 1)">p</text>
<text class="sf" style="font-size:11.5px;font-style:italic" text-anchor="start" transform="translate(671 307.8) scale(1 1)">T</text>
</g>
</svg>
</body></html>
